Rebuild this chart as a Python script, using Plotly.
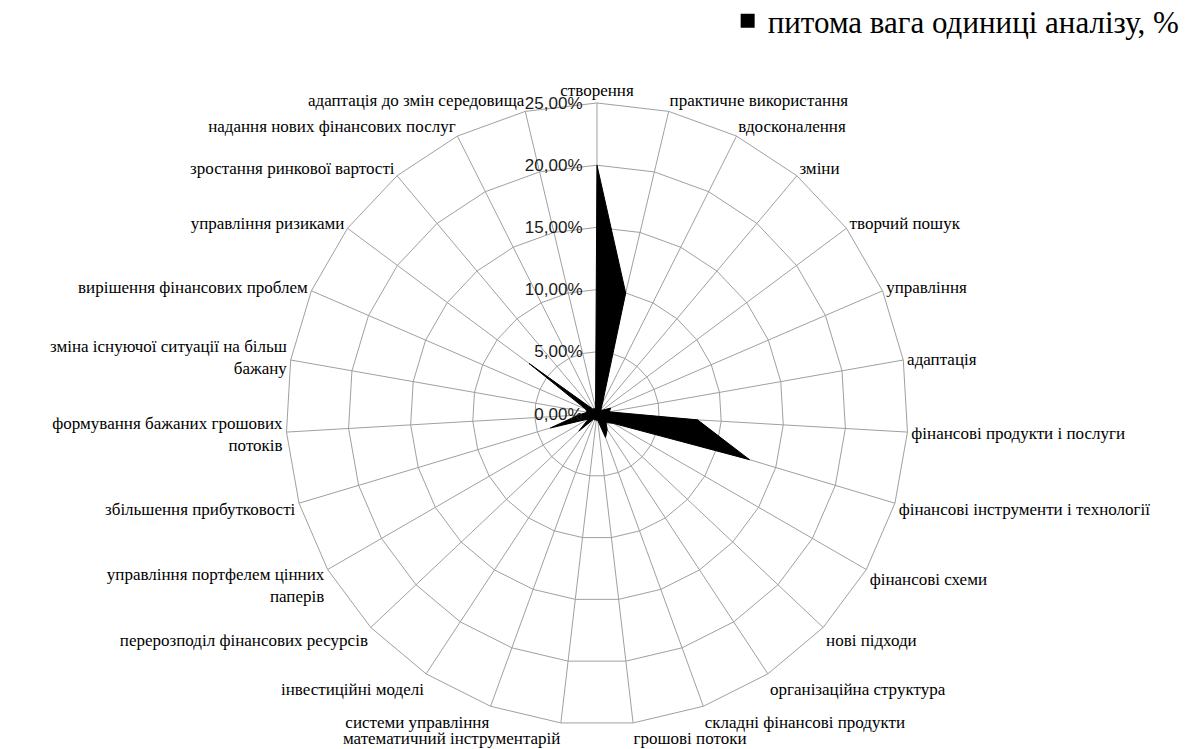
import plotly.graph_objects as go

# Categories, clockwise from the top
categories = [
    "створення",
    "практичне використання",
    "вдосконалення",
    "зміни",
    "творчий пошук",
    "управління",
    "адаптація",
    "фінансові продукти і послуги",
    "фінансові інструменти і технології",
    "фінансові схеми",
    "нові підходи",
    "організаційна структура",
    "складні фінансові продукти",
    "грошові потоки",
    "математичний інструментарій",
    "системи управління",
    "інвестиційні моделі",
    "перерозподіл фінансових ресурсів",
    "управління портфелем цінних<br>паперів",
    "збільшення прибутковості",
    "формування бажаних грошових<br>потоків",
    "зміна існуючої ситуації на більш<br>бажану",
    "вирішення фінансових проблем",
    "управління ризиками",
    "зростання ринкової вартості",
    "надання нових фінансових послуг",
    "адаптація до змін середовища",
]

# Share of each unit of analysis, %
share = [
    20.0, 10.0, 1.0, 0.5, 0.5, 1.2, 1.0, 8.1, 12.8, 1.5,
    1.0, 1.5, 2.0, 0.5, 0.5, 0.5, 0.5, 2.0, 0.8, 3.9,
    1.5, 0.8, 1.0, 6.8, 0.5, 0.5, 0.5,
]

series_name = "питома вага одиниці аналізу, %"

radial_ticks = [0, 0.05, 0.10, 0.15, 0.20, 0.25]

values = [v / 100 for v in share]

serif = "Liberation Serif, Times New Roman, serif"
sans = "Liberation Sans, Arial, sans-serif"
grid_color = "#a0a0a0"

fig = go.Figure()

# filled radar area
fig.add_trace(
    go.Scatterpolar(
        r=values + values[:1],
        theta=categories + categories[:1],
        mode="lines",
        fill="toself",
        fillcolor="black",
        line=dict(color="black", width=1),
        name=series_name,
        showlegend=False,
    )
)

# square legend key for the series
fig.add_trace(
    go.Scatterpolar(
        r=[None],
        theta=[categories[0]],
        mode="markers",
        marker=dict(symbol="square", size=14, color="black"),
        name=series_name,
        showlegend=True,
    )
)

fig.update_layout(
    width=1193,
    height=749,
    margin=dict(l=0, r=0, t=0, b=0, autoexpand=False),
    paper_bgcolor="white",
    plot_bgcolor="white",
    separators=", ",
    font=dict(family=serif, color="black", size=15),
    polar=dict(
        domain=dict(x=[0.2397, 0.7611], y=[0.032, 0.8625]),
        bgcolor="white",
        gridshape="linear",
        radialaxis=dict(
            range=[0, 0.25],
            tickvals=radial_ticks,
            tickformat=".2%",
            angle=90,
            tickangle=90,
            side="counterclockwise",
            showline=False,
            ticks="outside",
            ticklen=8,
            tickcolor="rgba(0,0,0,0)",
            gridcolor=grid_color,
            gridwidth=1,
            tickfont=dict(family=sans, size=17, color="#1a1a1a"),
        ),
        angularaxis=dict(
            categoryorder="array",
            categoryarray=categories,
            rotation=90,
            direction="clockwise",
            showline=True,
            linecolor=grid_color,
            linewidth=1,
            gridcolor=grid_color,
            gridwidth=1,
            ticks="",
            tickfont=dict(family=serif, size=17, color="black"),
        ),
    ),
    legend=dict(
        x=0.993,
        xanchor="right",
        y=1.008,
        yanchor="top",
        font=dict(family=serif, size=31, color="black"),
        bgcolor="rgba(0,0,0,0)",
        itemwidth=30,
    ),
    showlegend=True,
)

fig.write_html("out.html")
